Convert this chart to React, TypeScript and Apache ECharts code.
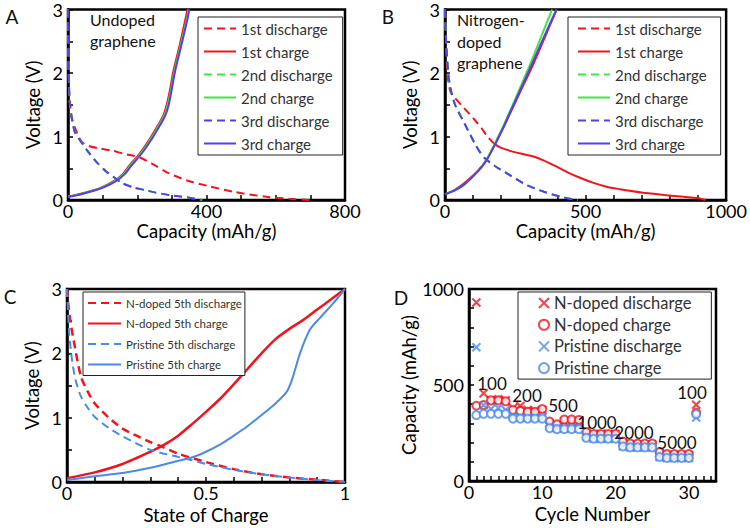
import React, { useEffect, useRef } from "react";
import * as echarts from "echarts";

type P = [number, number];

const RED = "#f0141e";
const GREEN = "#3ee83e";
const VIOLET = "#5040ee";
const CBLUE = "#4a8ae8";
const FONT = "Lato, 'Open Sans', sans-serif";

// ---------- Panel A: undoped graphene ----------
const aLegend = ["1st discharge", "1st charge", "2nd discharge", "2nd charge", "3rd discharge", "3rd charge"];
const aDis1: P[] = [[0, 3], [1, 2.5], [2, 2.0], [4, 1.6], [8, 1.35], [19, 1.15], [39, 0.92], [60, 0.85], [92, 0.81], [126, 0.78], [160, 0.73], [207, 0.67], [250, 0.55], [284, 0.44], [342, 0.31], [405, 0.22], [477, 0.13], [573, 0.05], [640, 0.02], [699, 0]];
const aChg1: P[] = [[0, 0.05], [30, 0.09], [59, 0.13], [97, 0.2], [136, 0.31], [160, 0.42], [174, 0.52], [208, 0.74], [236, 0.96], [260, 1.18], [275, 1.33], [285, 1.5], [295, 1.75], [304, 2.02], [323, 2.45], [340, 2.87], [345, 3]];
const aDis2: P[] = [[0, 3], [1, 2.4], [3, 1.8], [6, 1.5], [19, 1.08], [40, 0.9], [54, 0.79], [82, 0.6], [110, 0.45], [130, 0.37], [155, 0.27], [188, 0.2], [220, 0.16], [251, 0.12], [300, 0.07], [347, 0.04], [388, 0]];
const aChg2: P[] = [[0, 0.05], [30, 0.085], [62, 0.13], [100, 0.2], [139, 0.31], [163, 0.42], [177, 0.52], [211, 0.74], [239, 0.96], [263, 1.18], [278, 1.33], [288, 1.5], [298, 1.75], [307, 2.02], [326, 2.45], [344, 2.87], [348, 3]];
const aDis3: P[] = [[0, 3], [1, 2.4], [3, 1.8], [6, 1.5], [19, 1.08], [40, 0.9], [54, 0.79], [82, 0.6], [110, 0.45], [130, 0.37], [155, 0.27], [188, 0.2], [220, 0.16], [251, 0.12], [300, 0.07], [347, 0.04], [386, 0]];
const aChg3: P[] = [[0, 0.05], [30, 0.08], [64, 0.13], [103, 0.2], [142, 0.31], [166, 0.42], [180, 0.52], [214, 0.74], [242, 0.96], [266, 1.18], [281, 1.33], [291, 1.5], [300, 1.75], [309, 2.02], [328, 2.45], [346, 2.87], [350, 3]];

// ---------- Panel B: nitrogen-doped graphene ----------
const bDis1Head: P[] = [[0, 3], [3, 2.6], [6, 2.15], [12, 1.86], [20, 1.7], [35, 1.61], [59, 1.49], [106, 1.26], [130, 1.13], [153, 0.99], [176, 0.88]];
const bDis1Tail: P[] = [[176, 0.88], [200, 0.82], [235, 0.77], [280, 0.72], [317, 0.68], [352, 0.62], [390, 0.54], [434, 0.44], [480, 0.35], [528, 0.27], [575, 0.21], [622, 0.17], [662, 0.14], [704, 0.115], [780, 0.08], [850, 0.05], [898, 0.03], [927, 0]];
const bChg1: P[] = [[0, 0.09], [35, 0.16], [70, 0.27], [117, 0.46], [147, 0.63], [176, 0.86], [211, 1.17], [246, 1.5], [280, 1.82], [315, 2.15], [352, 2.53], [397, 3]];
const bDis2: P[] = [[0, 3], [4, 2.5], [12, 1.98], [20, 1.75], [35, 1.51], [70, 1.2], [106, 0.89], [125, 0.75], [141, 0.66], [176, 0.54], [235, 0.38], [293, 0.23], [352, 0.13], [411, 0.05], [472, 0]];
const bChg2: P[] = [[0, 0.09], [35, 0.15], [70, 0.25], [117, 0.45], [147, 0.63], [176, 0.88], [211, 1.2], [246, 1.55], [280, 1.9], [315, 2.27], [350, 2.66], [381, 3]];
const bDis3: P[] = [[0, 3], [4, 2.5], [12, 1.98], [20, 1.75], [35, 1.51], [70, 1.2], [106, 0.89], [125, 0.75], [141, 0.66], [176, 0.54], [235, 0.38], [293, 0.23], [352, 0.13], [411, 0.05], [469, 0]];
const bChg3: P[] = [[0, 0.09], [35, 0.15], [70, 0.25], [117, 0.45], [147, 0.62], [176, 0.86], [211, 1.18], [246, 1.52], [280, 1.85], [315, 2.2], [352, 2.57], [397, 3]];

// ---------- Panel C: state of charge ----------
const cLegend = ["N-doped 5th discharge", "N-doped 5th charge", "Pristine 5th discharge", "Pristine 5th charge"];
const cNDis: P[] = [[0, 3], [0.005, 2.75], [0.012, 2.5], [0.024, 2.2], [0.05, 1.64], [0.075, 1.4], [0.1, 1.22], [0.15, 1.0], [0.2, 0.83], [0.25, 0.72], [0.3, 0.62], [0.341, 0.55], [0.4, 0.44], [0.5, 0.31], [0.6, 0.2], [0.7, 0.12], [0.8, 0.07], [0.9, 0.035], [1, 0]];
const cNChg: P[] = [[0, 0.06], [0.1, 0.15], [0.2, 0.28], [0.3, 0.47], [0.35, 0.58], [0.4, 0.72], [0.45, 0.9], [0.5, 1.09], [0.55, 1.29], [0.6, 1.52], [0.65, 1.76], [0.7, 2.0], [0.75, 2.22], [0.8, 2.38], [0.85, 2.52], [0.9, 2.68], [0.95, 2.84], [1, 3]];
const cPDis: P[] = [[0, 3], [0.004, 2.6], [0.008, 2.3], [0.018, 1.9], [0.03, 1.6], [0.05, 1.33], [0.075, 1.15], [0.1, 1.01], [0.15, 0.84], [0.2, 0.71], [0.3, 0.5], [0.4, 0.39], [0.449, 0.34], [0.5, 0.28], [0.6, 0.19], [0.7, 0.12], [0.8, 0.07], [0.9, 0.03], [1, 0]];
const cPChg: P[] = [[0, 0.03], [0.1, 0.09], [0.2, 0.14], [0.3, 0.22], [0.4, 0.33], [0.449, 0.38], [0.5, 0.47], [0.55, 0.58], [0.6, 0.72], [0.65, 0.87], [0.7, 1.04], [0.75, 1.22], [0.79, 1.4], [0.81, 1.6], [0.838, 2.0], [0.874, 2.37], [0.91, 2.55], [0.958, 2.78], [1, 3]];

// ---------- Panel D: rate capability ----------
const dLegend = ["N-doped discharge", "N-doped charge", "Pristine discharge", "Pristine charge"];
const cycles = [1, 2, 3, 4, 5, 6, 7, 8, 9, 10, 11, 12, 13, 14, 15, 16, 17, 18, 19, 20, 21, 22, 23, 24, 25, 26, 27, 28, 29, 30, 31];
const nDischarge = [930, 457, 420, 425, 420, 380, 390, 370, 365, 370, 300, 290, 310, 310, 310, 262, 245, 245, 245, 245, 200, 190, 190, 190, 190, 145, 135, 135, 135, 135, 397];
const nCharge = [392, 395, 420, 420, 415, 370, 365, 360, 360, 375, 310, 295, 320, 320, 318, 255, 245, 245, 245, 245, 205, 195, 195, 195, 195, 150, 140, 140, 140, 140, 355];
const pDischarge = [697, 395, 375, 380, 370, 340, 330, 330, 330, 330, 285, 275, 275, 275, 275, 230, 220, 220, 220, 220, 180, 175, 175, 175, 175, 125, 120, 120, 120, 120, 331];
const pCharge = [343, 350, 350, 350, 350, 325, 325, 325, 325, 325, 275, 270, 270, 270, 270, 225, 220, 220, 220, 220, 180, 175, 175, 175, 175, 125, 120, 120, 120, 120, 348];
const rateLabels = ["100", "200", "500", "1000", "2000", "5000", "100"];

const zip = (ys: number[]): P[] => cycles.map((c, i) => [c, ys[i]]);

const CROSS = "path://M1,1L9,9M9,1L1,9";
const TICK_STYLE = { color: "#000", width: 1.5 };
const plain = (v: number) => String(v);

function axisCommon(extra: any) {
  return {
    type: "value",
    axisLine: { show: true, onZero: false, lineStyle: { color: "#000", width: 2.5 } },
    axisTick: { show: true, inside: true, length: 5, lineStyle: TICK_STYLE },
    splitLine: { show: false },
    nameLocation: "middle",
    nameTextStyle: { color: "#000", fontSize: 18.5, fontFamily: FONT, lineHeight: 18 },
    ...extra,
  };
}

const xLabel = { color: "#000", fontSize: 18, fontFamily: FONT, margin: 3, lineHeight: 16, formatter: plain };
const yLabel = { color: "#000", fontSize: 18, fontFamily: FONT, margin: 5, lineHeight: 16, formatter: plain, padding: [3, 0, 0, 0] };
const minor = (n: number) => ({ show: true, splitNumber: n, length: 5, lineStyle: TICK_STYLE });

function line(name: string, data: P[], color: string, dashed: boolean, gi: number, width = 2) {
  return {
    type: "line",
    name,
    data,
    xAxisIndex: gi,
    yAxisIndex: gi,
    symbol: "none",
    showSymbol: false,
    smooth: 0.25,
    lineStyle: { color, width, type: dashed ? [8, 5] : "solid" },
    itemStyle: { color },
  };
}

function legendBox(left: number, top: number, data: string[], extra: any) {
  return {
    orient: "vertical",
    left,
    top,
    data,
    selectedMode: false,
    borderColor: "#222",
    borderWidth: 1,
    backgroundColor: "#fff",
    ...extra,
  };
}

const hideSymbol = { itemStyle: { color: "transparent", borderWidth: 0, opacity: 0 } };

function txt(x: number, y: number, text: string, size: number, align = "center", lineHeight?: number) {
  return {
    type: "text",
    x,
    y,
    z: 100,
    style: {
      text,
      fill: "#111",
      fontSize: size,
      fontFamily: FONT,
      align,
      verticalAlign: "middle",
      lineHeight: lineHeight || size * 1.2,
    },
  };
}

export default function App() {
  const ref = useRef<HTMLDivElement>(null);
  useEffect(() => {
    const chart = echarts.init(ref.current!, null, { renderer: "svg" });
    const grid = [
      { left: 68, top: 8, width: 277, height: 192 },
      { left: 445, top: 8, width: 284, height: 192 },
      { left: 67, top: 289, width: 278, height: 193 },
      { left: 469, top: 289, width: 247, height: 192 },
    ].map((g) => ({ ...g, show: true, borderColor: "#000", borderWidth: 2.5, backgroundColor: "transparent" }));

    const abText = { color: "#333", fontFamily: FONT, fontSize: 15, lineHeight: 14 };

    const option: any = {
      animation: false,
      backgroundColor: "#fff",
      grid,
      xAxis: [
        axisCommon({ gridIndex: 0, min: 0, max: 800, interval: 400, minorTick: minor(4), axisLabel: xLabel, name: "Capacity (mAh/g)", nameGap: 22 }),
        axisCommon({ gridIndex: 1, min: 0, max: 1000, interval: 500, minorTick: minor(5), axisLabel: xLabel, name: "Capacity (mAh/g)", nameGap: 22 }),
        axisCommon({ gridIndex: 2, min: 0, max: 1, interval: 0.5, minorTick: minor(5), axisLabel: xLabel, name: "State of Charge", nameGap: 24 }),
        axisCommon({
          gridIndex: 3, min: 0, max: 33.7, interval: 1, minorTick: { show: false },
          axisLabel: { ...xLabel, interval: 0, formatter: (v: number) => (v % 10 === 0 ? String(v) : "") },
          name: "Cycle Number", nameGap: 24,
        }),
      ],
      yAxis: [
        axisCommon({ gridIndex: 0, min: 0, max: 3, interval: 1, minorTick: minor(2), axisLabel: yLabel, name: "Voltage (V)", nameGap: 26 }),
        axisCommon({ gridIndex: 1, min: 0, max: 3, interval: 1, minorTick: minor(2), axisLabel: yLabel, name: "Voltage (V)", nameGap: 26 }),
        axisCommon({ gridIndex: 2, min: 0, max: 3, interval: 1, minorTick: minor(2), axisLabel: yLabel, name: "Voltage (V)", nameGap: 26 }),
        axisCommon({ gridIndex: 3, min: 0, max: 1000, interval: 500, minorTick: minor(5), axisLabel: yLabel, name: "Capacity (mAh/g)", nameGap: 51 }),
      ],
      legend: [
        legendBox(198, 17, aLegend, { itemWidth: 32, itemHeight: 14, itemGap: 8, padding: [4, 10, 4, 5], textStyle: abText, ...hideSymbol }),
        legendBox(568, 17, aLegend, { itemWidth: 32, itemHeight: 14, itemGap: 8, padding: [4, 14, 4, 9], textStyle: abText, ...hideSymbol }),
        legendBox(83, 292, cLegend, {
          itemWidth: 33, itemHeight: 12, itemGap: 8.5, padding: [5, 3, 5, 4],
          textStyle: { color: "#333", fontFamily: FONT, fontSize: 11.5, lineHeight: 12 },
          ...hideSymbol,
        }),
        legendBox(518, 292, dLegend, {
          itemWidth: 10, itemHeight: 10, itemGap: 1.7, padding: [1, 20, 1, 20],
          textStyle: { color: "#333", fontFamily: FONT, fontSize: 16.5, lineHeight: 20 },
        }),
      ],
      series: [
        line("1st discharge", aDis1, RED, true, 0),
        line("1st charge", aChg1, RED, false, 0),
        line("2nd discharge", aDis2, GREEN, true, 0),
        line("2nd charge", aChg2, GREEN, false, 0),
        line("3rd discharge", aDis3, VIOLET, true, 0),
        line("3rd charge", aChg3, VIOLET, false, 0),

        line("1st discharge", bDis1Head, RED, true, 1),
        line("B 1st discharge tail", bDis1Tail, RED, false, 1),
        line("1st charge", bChg1, RED, false, 1),
        line("2nd discharge", bDis2, GREEN, true, 1),
        line("2nd charge", bChg2, GREEN, false, 1),
        line("3rd discharge", bDis3, VIOLET, true, 1),
        line("3rd charge", bChg3, VIOLET, false, 1),

        line(cLegend[0], cNDis, RED, true, 2, 2.5),
        line(cLegend[1], cNChg, RED, false, 2, 2.5),
        line(cLegend[2], cPDis, CBLUE, true, 2, 2),
        line(cLegend[3], cPChg, CBLUE, false, 2, 2),

        {
          type: "scatter", name: dLegend[0], data: zip(nDischarge), xAxisIndex: 3, yAxisIndex: 3,
          symbol: CROSS, symbolSize: 8, itemStyle: { color: RED, borderColor: RED, borderWidth: 2.2 },
        },
        {
          type: "scatter", name: dLegend[1], data: zip(nCharge), xAxisIndex: 3, yAxisIndex: 3,
          symbol: "emptyCircle", symbolSize: 8, itemStyle: { color: RED, borderColor: RED, borderWidth: 2 },
        },
        {
          type: "scatter", name: dLegend[2], data: zip(pDischarge), xAxisIndex: 3, yAxisIndex: 3,
          symbol: CROSS, symbolSize: 8, itemStyle: { color: CBLUE, borderColor: CBLUE, borderWidth: 2.2 },
        },
        {
          type: "scatter", name: dLegend[3], data: zip(pCharge), xAxisIndex: 3, yAxisIndex: 3,
          symbol: "emptyCircle", symbolSize: 8, itemStyle: { color: CBLUE, borderColor: CBLUE, borderWidth: 2 },
        },
      ],
      graphic: [
        txt(12, 16, "A", 19),
        txt(388, 16, "B", 19),
        txt(10, 296, "C", 19),
        txt(401, 297, "D", 19),
        txt(90, 30, "Undoped\ngraphene", 16, "left", 21),
        txt(457, 41, "Nitrogen-\ndoped\ngraphene", 16, "left", 21.5),
        txt(492, 383, rateLabels[0], 17),
        txt(527, 395, rateLabels[1], 17),
        txt(563, 405, rateLabels[2], 17),
        txt(597, 422, rateLabels[3], 17),
        txt(634, 432, rateLabels[4], 17),
        txt(677, 442, rateLabels[5], 17),
        txt(692, 392, rateLabels[6], 17),
      ],
    };
    chart.setOption(option);
    return () => chart.dispose();
  }, []);
  return <div ref={ref} style={{ position: "fixed", left: 0, top: 0, width: 750, height: 528 }} />;
}
